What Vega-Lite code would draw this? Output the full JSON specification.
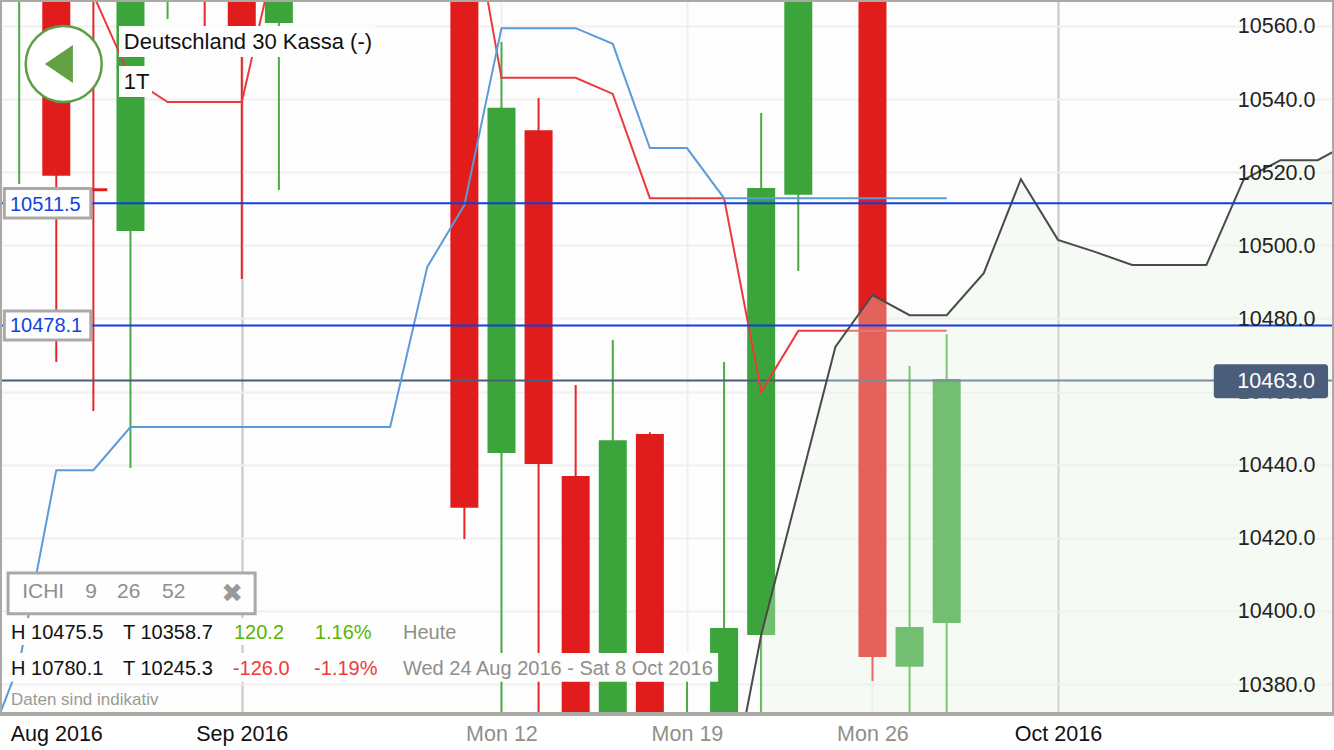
{
"$schema":"https://vega.github.io/schema/vega-lite/v6.json",
"width":1334,"height":714,"autosize":"none",
"padding":{"left":0,"top":0,"right":0,"bottom":36},
"background":"#ffffff",
"view":{"fill":"#fdfdfd","stroke":null},
"config":{"font":"Liberation Sans"},
"datasets":{
"candles":[
{"session":-13,"open":10598,"close":10590,"high":10600,"low":10516.8,"direction":"up"},
{"session":-12,"open":10600,"close":10519.0,"high":10605,"low":10468.1,"direction":"down"},
{"session":-11,"open":10515.6,"close":10514.8,"high":10600,"low":10454.7,"direction":"down"},
{"session":-10,"open":10503.9,"close":10600,"high":10605,"low":10439.1,"direction":"up"},
{"session":-9,"open":10590,"close":10585,"high":10600,"low":10561.9,"direction":"up"},
{"session":-8,"open":10590,"close":10585,"high":10600,"low":10558,"direction":"down"},
{"session":-7,"open":10600,"close":10559,"high":10605,"low":10490.8,"direction":"down"},
{"session":-6,"open":10560.8,"close":10600,"high":10605,"low":10515.1,"direction":"up"},
{"session":-1,"open":10600,"close":10428.2,"high":10605,"low":10419.7,"direction":"down"},
{"session":0,"open":10443.2,"close":10537.6,"high":10555.6,"low":10350,"direction":"up"},
{"session":1,"open":10531.5,"close":10440.2,"high":10540.3,"low":10350,"direction":"down"},
{"session":2,"open":10436.9,"close":10360,"high":10461.8,"low":10350,"direction":"down"},
{"session":3,"open":10360,"close":10446.7,"high":10474.1,"low":10350,"direction":"up"},
{"session":4,"open":10448.4,"close":10360,"high":10448.9,"low":10350,"direction":"down"},
{"session":5,"open":10360,"close":10365,"high":10383.8,"low":10350,"direction":"up"},
{"session":6,"open":10360,"close":10395.3,"high":10468.1,"low":10350,"direction":"up"},
{"session":7,"open":10393.4,"close":10515.7,"high":10536.2,"low":10350,"direction":"up"},
{"session":8,"open":10513.8,"close":10600,"high":10605,"low":10493.0,"direction":"up"},
{"session":10,"open":10600,"close":10387.4,"high":10605,"low":10380.8,"direction":"down"},
{"session":11,"open":10384.7,"close":10395.6,"high":10467.0,"low":10350,"direction":"up"},
{"session":12,"open":10396.7,"close":10463.4,"high":10475.7,"low":10350,"direction":"up"}
],
"blue":[
{"session":-14,"price":10359.2},{"session":-13,"price":10385.5},{"session":-12,"price":10438.5},{"session":-11,"price":10438.5},{"session":-10,"price":10450.3},{"session":-9,"price":10450.3},{"session":-8,"price":10450.3},{"session":-7,"price":10450.3},{"session":-6,"price":10450.3},{"session":-5,"price":10450.3},{"session":-4,"price":10450.3},{"session":-3,"price":10450.3},{"session":-2,"price":10494.1},{"session":-1,"price":10511.0},{"session":0,"price":10559.4},{"session":1,"price":10559.4},{"session":2,"price":10559.4},{"session":3,"price":10555.1},{"session":4,"price":10526.6},{"session":5,"price":10526.6},{"session":6,"price":10512.9},{"session":7,"price":10512.9},{"session":8,"price":10512.9},{"session":9,"price":10512.9},{"session":10,"price":10512.9},{"session":11,"price":10512.9},{"session":12,"price":10512.9}
],
"red":[
{"session":-11,"price":10568.5},{"session":-10,"price":10545.8},{"session":-9,"price":10539.2},{"session":-8,"price":10539.2},{"session":-7,"price":10539.2},{"session":-6,"price":10583.5},{"session":-5,"price":10594.5},{"session":-4,"price":10594.5},{"session":-3,"price":10594.5},{"session":-2,"price":10594.5},{"session":-1,"price":10602.7},{"session":0,"price":10545.8},{"session":1,"price":10545.8},{"session":2,"price":10545.8},{"session":3,"price":10541.4},{"session":4,"price":10512.9},{"session":5,"price":10512.9},{"session":6,"price":10512.9},{"session":7,"price":10459.9},{"session":8,"price":10476.6},{"session":9,"price":10476.6},{"session":10,"price":10476.6},{"session":11,"price":10476.6},{"session":12,"price":10476.6}
],
"black":[
{"session":6,"price":10340.6},{"session":7,"price":10393.4},{"session":8,"price":10432.8},{"session":9,"price":10472.2},{"session":10,"price":10486.4},{"session":11,"price":10480.9},{"session":12,"price":10480.9},{"session":13,"price":10492.4},{"session":14,"price":10518.1},{"session":15,"price":10501.5},{"session":16,"price":10498.2},{"session":17,"price":10494.6},{"session":18,"price":10494.6},{"session":19,"price":10494.6},{"session":20,"price":10517.9},{"session":21,"price":10523.3},{"session":22,"price":10523.3},{"session":23,"price":10528.8}
]
},
"encoding":{"x":{"field":"session","type":"quantitative","scale":{"domain":[-13.517,22.44],"nice":false,"zero":false,"padding":0},
   "axis":{"title":null,"values":[-12,-7,0,5,10,15],"domain":false,"ticks":false,"labelFontSize":21.5,"labelPadding":9,"labelOverlap":false,"labelFlush":false,"labelBound":false,
    "labelExpr":"datum.value==-12?'Aug 2016':datum.value==-7?'Sep 2016':datum.value==0?'Mon 12':datum.value==5?'Mon 19':datum.value==10?'Mon 26':'Oct 2016'",
    "labelColor":{"condition":{"test":"datum.value==0||datum.value==5||datum.value==10","value":"#8f8f8a"},"value":"#111111"},
    "grid":true,"gridWidth":2,
    "gridColor":{"condition":[{"test":"datum.value==-12","value":"transparent"},{"test":"datum.value==-7||datum.value==15","value":"#c6c6c4"}],"value":"#eef0f6"}}}},
"layer":[
{"data":{"name":"candles"},"mark":{"type":"rule","strokeWidth":2,"clip":true},
 "encoding":{
  "y":{"field":"high","type":"quantitative","scale":{"domain":[10371.8,10567.1],"nice":false,"zero":false},
   "axis":{"title":null,"orient":"right","values":[10380,10400,10420,10440,10460,10480,10500,10520,10540,10560],"domain":false,"ticks":false,"grid":true,"gridColor":"#f0f0f0","gridWidth":2,"format":".1f","labelAlign":"right","labelPadding":-19,"labelFontSize":21.5,"labelOffset":1,"labelBound":false,"labelFlush":false,"labelOverlap":false,
    "labelColor":{"condition":{"test":"datum.value==10460","value":"#222222"},"value":"transparent"}}},
  "y2":{"field":"low"},
  "color":{"field":"direction","type":"nominal","scale":{"domain":["up","down"],"range":["#4cab44","#e8262a"]},"legend":null}}},
{"data":{"name":"candles"},"mark":{"type":"bar","size":28,"orient":"vertical","clip":true},
 "encoding":{
  "y":{"field":"open","type":"quantitative","axis":null},
  "y2":{"field":"close"},
  "color":{"field":"direction","type":"nominal","scale":{"domain":["up","down"],"range":["#3ba53b","#e01c1c"]},"legend":null}}},
{"data":{"values":[{"session":-13.517,"session2":22.44,"price":10463.0}]},"mark":{"type":"rule","color":"#4a5d7a","strokeWidth":2},
 "encoding":{"x2":{"field":"session2"},"y":{"field":"price","type":"quantitative","axis":null}}},
{"data":{"name":"red"},"mark":{"type":"line","color":"#ea3a3e","strokeWidth":2,"clip":true},
 "encoding":{"y":{"field":"price","type":"quantitative","axis":null}}},
{"data":{"name":"blue"},"mark":{"type":"line","color":"#5b9bd8","strokeWidth":2,"clip":true},
 "encoding":{"y":{"field":"price","type":"quantitative","axis":null}}},
{"data":{"name":"black"},"transform":[{"filter":"datum.session>=7"}],"mark":{"type":"area","color":"#e8f6e4","opacity":0.32,"clip":true},
 "encoding":{"y":{"field":"price","type":"quantitative","axis":null},"y2":{"datum":10371.8}}},
{"data":{"name":"black"},"mark":{"type":"line","color":"#4a4a4a","strokeWidth":2,"clip":true},
 "encoding":{"y":{"field":"price","type":"quantitative","axis":null}}},
{"data":{"values":[{"session":-13.517,"session2":22.44,"price":10511.5},{"session":-13.517,"session2":22.44,"price":10478.1}]},"mark":{"type":"rule","color":"#0f3fdc","strokeWidth":2},
 "encoding":{"x2":{"field":"session2"},"y":{"field":"price","type":"quantitative","axis":null}}},
{"data":{"values":[
 {"session":-10.31,"session2":-3.41,"price":10560,"price2":10551.5},
 {"session":-10.31,"session2":-9.42,"price":10549.05,"price2":10540.6},
 {"session":-13.46,"session2":-1.12,"price":10398.06,"price2":10390.7},
 {"session":-13.46,"session2":5.84,"price":10388.5,"price2":10380.6}
 ]},"mark":{"type":"rect","fill":"#fefefe"},
 "encoding":{"x2":{"field":"session2"},"y":{"field":"price","type":"quantitative","axis":null},"y2":{"field":"price2"}}},
{"data":{"values":[
 {"session":-13.40,"session2":-11.07,"price":10515.54,"price2":10507.5},
 {"session":-13.40,"session2":-11.07,"price":10482.0,"price2":10474.1},
 {"session":-13.30,"session2":-6.64,"price":10410.4,"price2":10399.2}
 ]},"mark":{"type":"rect","fill":"#fefefe","stroke":"#aaa9a6","strokeWidth":3},
 "encoding":{"x2":{"field":"session2"},"y":{"field":"price","type":"quantitative","axis":null},"y2":{"field":"price2"}}},
{"data":{"values":[{"session":19.2,"session2":22.28,"price":10467.5,"price2":10458.2}]},"mark":{"type":"rect","fill":"#4a5d7a","cornerRadius":3},
 "encoding":{"x2":{"field":"session2"},"y":{"field":"price","type":"quantitative","axis":null},"y2":{"field":"price2"}}},
{"data":{"values":[{"session":-11.8,"price":10549.6}]},"mark":{"type":"point","shape":"circle","size":5776,"filled":false,"fill":"#ffffff","fillOpacity":1,"stroke":"#5f9e47","strokeWidth":2.5,"opacity":1},
 "encoding":{"y":{"field":"price","type":"quantitative","axis":null}}},
{"data":{"values":[{"session":-11.93,"price":10549.6}]},"mark":{"type":"point","shape":"M-0.737,0L0.737,-1L0.737,1Z","size":1444,"filled":true,"color":"#62a044","opacity":1},
 "encoding":{"y":{"field":"price","type":"quantitative","axis":null}}},
{"data":{"values":[
 {"session":-10.18,"price":10555.6,"label":"Deutschland 30 Kassa (-)"},
 {"session":-10.18,"price":10544.7,"label":"1T"}
 ]},"mark":{"type":"text","align":"left","baseline":"middle","fontSize":22,"color":"#111111"},
 "encoding":{"y":{"field":"price","type":"quantitative","axis":null},"text":{"field":"label"}}},
{"data":{"values":[
 {"session":-13.22,"price":10394.2,"label":"H 10475.5"},
 {"session":-10.2,"price":10394.2,"label":"T 10358.7"},
 {"session":-13.22,"price":10384.4,"label":"H 10780.1"},
 {"session":-10.2,"price":10384.4,"label":"T 10245.3"}
 ]},"mark":{"type":"text","align":"left","baseline":"middle","fontSize":20,"dy":1,"color":"#111111"},
 "encoding":{"y":{"field":"price","type":"quantitative","axis":null},"text":{"field":"label"}}},
{"data":{"values":[
 {"session":-12.92,"price":10405.2,"label":"ICHI"},
 {"session":-11.22,"price":10405.2,"label":"9"},
 {"session":-10.36,"price":10405.2,"label":"26"},
 {"session":-9.15,"price":10405.2,"label":"52"}
 ]},"mark":{"type":"text","align":"left","baseline":"middle","fontSize":21,"color":"#8f8f8a"},
 "encoding":{"y":{"field":"price","type":"quantitative","axis":null},"text":{"field":"label"}}},
{"data":{"values":[
 {"session":-2.655,"price":10394.2,"label":"Heute"},
 {"session":-2.655,"price":10384.4,"label":"Wed 24 Aug 2016 - Sat 8 Oct 2016"}
 ]},"mark":{"type":"text","align":"left","baseline":"middle","fontSize":20,"dy":1,"color":"#8f8f8a"},
 "encoding":{"y":{"field":"price","type":"quantitative","axis":null},"text":{"field":"label"}}},
{"data":{"values":[{"session":-13.22,"price":10375.9,"label":"Daten sind indikativ"}]},"mark":{"type":"text","align":"left","baseline":"middle","fontSize":17,"dy":1,"color":"#9a9a96"},
 "encoding":{"y":{"field":"price","type":"quantitative","axis":null},"text":{"field":"label"}}},
{"data":{"values":[{"session":-7.26,"price":10404.6,"label":"✖"}]},"mark":{"type":"text","align":"center","baseline":"middle","fontSize":26,"font":"DejaVu Sans","color":"#999999"},
 "encoding":{"y":{"field":"price","type":"quantitative","axis":null},"text":{"field":"label"}}},
{"data":{"values":[{"session":-7.21,"price":10394.2,"label":"120.2"},{"session":-5.03,"price":10394.2,"label":"1.16%"}]},"mark":{"type":"text","align":"left","baseline":"middle","fontSize":20,"dy":1,"color":"#5ab400"},
 "encoding":{"y":{"field":"price","type":"quantitative","axis":null},"text":{"field":"label"}}},
{"data":{"values":[{"session":-7.24,"price":10384.4,"label":"-126.0"},{"session":-5.05,"price":10384.4,"label":"-1.19%"}]},"mark":{"type":"text","align":"left","baseline":"middle","fontSize":20,"dy":1,"color":"#f03a3a"},
 "encoding":{"y":{"field":"price","type":"quantitative","axis":null},"text":{"field":"label"}}},
{"data":{"values":[{"session":-13.25,"price":10511.3,"label":"10511.5"},{"session":-13.25,"price":10478.2,"label":"10478.1"}]},"mark":{"type":"text","align":"left","baseline":"middle","fontSize":20,"dy":1,"color":"#1144dd"},
 "encoding":{"y":{"field":"price","type":"quantitative","axis":null},"text":{"field":"label"}}},
{"data":{"values":[{"session":-13.517,"session2":22.44,"price":10567.1,"price2":10371.8}]},"mark":{"type":"rect","fill":null,"stroke":"#aaa9a2","strokeWidth":4},
 "encoding":{"x2":{"field":"session2"},"y":{"field":"price","type":"quantitative","axis":null},"y2":{"field":"price2"}}},
{"data":{"values":[{"session":21.93,"price":10462.9,"label":"10463.0"}]},"mark":{"type":"text","align":"right","baseline":"middle","fontSize":21.5,"dy":1,"color":"#ffffff"},
 "encoding":{
  "y":{"field":"price","type":"quantitative",
   "axis":{"title":null,"orient":"right","zindex":1,"values":[10380,10400,10420,10440,10480,10500,10520,10540,10560],"domain":false,"ticks":false,"grid":false,"format":".1f","labelAlign":"right","labelPadding":-19,"labelFontSize":21.5,"labelOffset":1,"labelBound":false,"labelFlush":false,"labelOverlap":false,"labelColor":"#222222"}},
  "text":{"field":"label"}}}
],
"resolve":{"axis":{"y":"independent"},"scale":{"color":"independent"}}
}
